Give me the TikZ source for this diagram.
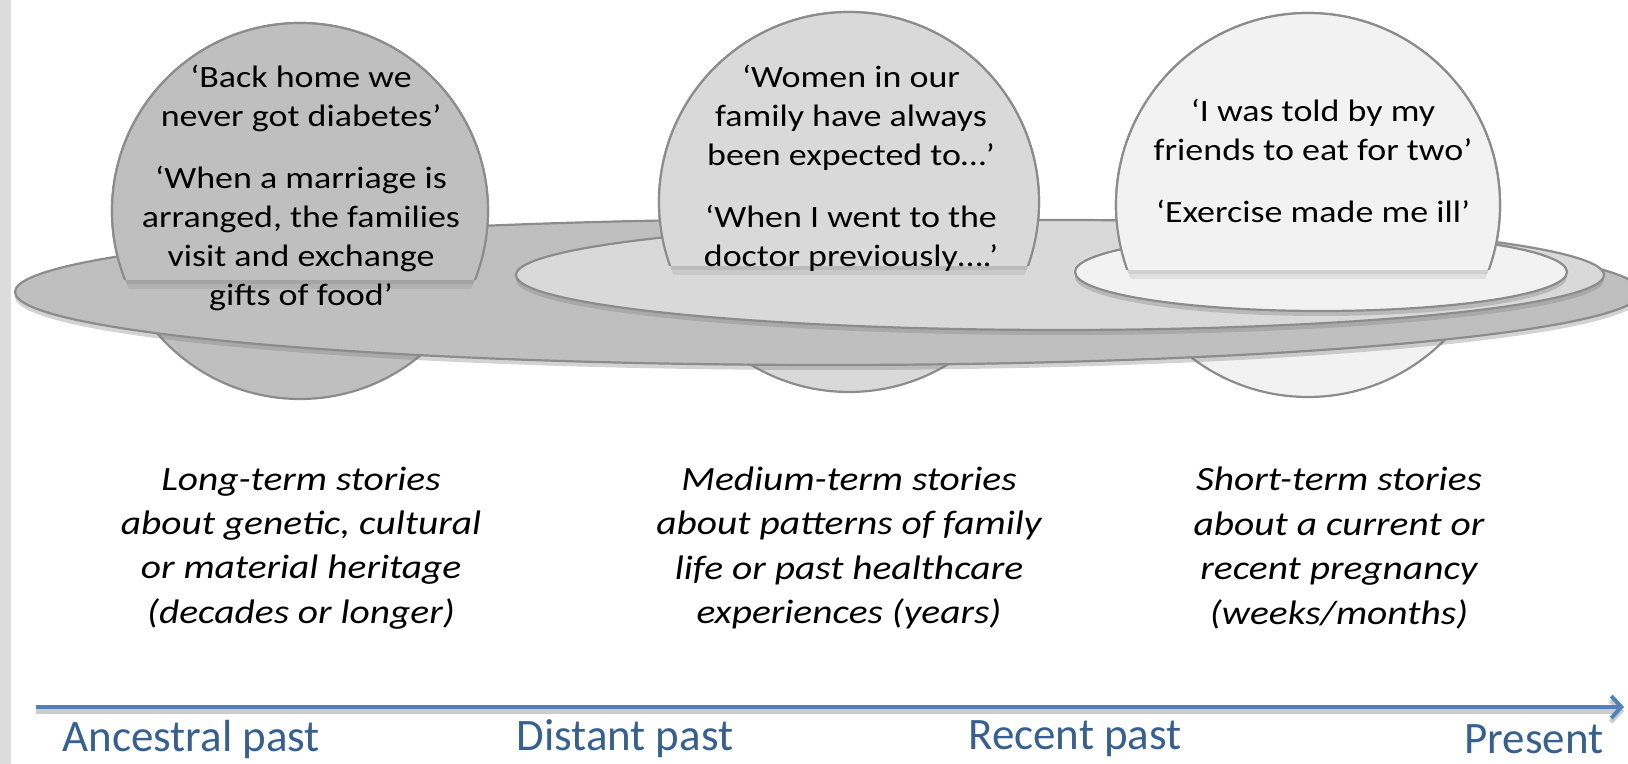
\documentclass[tikz,border=0pt]{standalone}
\usepackage{fontspec}
\setmainfont{Carlito}
\newfontfamily\widefont{Carlito}[FakeStretch=1.16]
\usetikzlibrary{arrows.meta,shadows}

\definecolor{ringdark}{HTML}{BFBFBF}
\definecolor{ringmid}{HTML}{D9D9D9}
\definecolor{ringlight}{HTML}{F2F2F2}
\definecolor{rimline}{HTML}{8C8C8C}
\definecolor{axisblue}{HTML}{4F81BD}
\definecolor{labelblue}{HTML}{366092}
\definecolor{sidebar}{HTML}{DCDCDC}

\tikzset{
  planet/.style={draw=rimline, line width=1.1pt},
  ring/.style={planet, drop shadow={shadow xshift=0pt, shadow yshift=-2.5pt, opacity=0.35}},
  quote/.style={align=center, font=\widefont\fontsize{15.5}{19.5}\selectfont},
  story/.style={align=center, font=\widefont\fontsize{17}{22.2}\selectfont\itshape},
  period/.style={anchor=west, inner sep=0pt, text=labelblue, font=\fontsize{22.5}{27}\selectfont},
  timeline/.style={draw=axisblue, line width=2pt, -{Straight Barb[length=5pt, width=11pt]},
    preaction={draw=black!20, line width=2.5pt, transform canvas={yshift=-2pt}}},
}

\begin{document}
\begin{tikzpicture}[x=0.5pt, y=-0.5pt]
    \def\gap{11.5pt}

    \useasboundingbox (0,0) rectangle (1628,764);
    \fill[sidebar] (0,0) rectangle (11,764);

% planets, seen behind the rings
    \filldraw[planet, fill=ringdark] (300,211) circle [radius=188];
    \filldraw[planet, fill=ringmid] (849,202) circle [radius=190];
    \filldraw[planet, fill=ringlight] (1308,205) circle [radius=192];

% rings
    \filldraw[ring, fill=ringdark] (828,292) ellipse [x radius=813, y radius=73];
    \filldraw[ring, fill=ringmid] (1060,275) ellipse [x radius=544, y radius=55];
    \filldraw[ring, fill=ringlight] (1321,272) ellipse [x radius=246, y radius=39];

% upper parts of the planets, in front of the rings
    \foreach \cx/\cy/\r/\cut/\col in {300/211/188/280/ringdark, 849/202/190/266/ringmid, 1308/205/192/270/ringlight} {
        \begin{scope}
            \clip (\cx,\cy) circle [radius=\r];
            \fill[black, opacity=0.07] (\cx-\r,\cut) rectangle (\cx+\r,\cut+9);
            \fill[black, opacity=0.07] (\cx-\r,\cut) rectangle (\cx+\r,\cut+4);
        \end{scope}
        \begin{scope}
            \clip (0,0) rectangle (1628,\cut);
            \filldraw[planet, fill=\col] (\cx,\cy) circle [radius=\r];
        \end{scope}
    }

% quotes
    \node[quote] (qLong) at (301,188) {‘Back home we\\ never got diabetes’\\[\gap] ‘When a marriage is\\ arranged, the families\\ visit and exchange\\ gifts of food’};
    \node[quote] (qMedium) at (851,168) {‘Women in our\\ family have always\\ been expected to…’\\[\gap] ‘When I went to the\\ doctor previously….’};
    \node[quote] (qShort) at (1313,161) {‘I was told by my\\ friends to eat for two’\\[\gap] ‘Exercise made me ill’};

% kinds of stories
    \node[story] (sLong) at (301,548) {Long-term stories\\ about genetic, cultural\\ or material heritage\\ (decades or longer)};
    \node[story] (sMedium) at (849,548) {Medium-term stories\\ about patterns of family\\ life or past healthcare\\ experiences (years)};
    \node[story] (sShort) at (1339,548) {Short-term stories\\ about a current or\\ recent pregnancy\\ (weeks/months)};

% time line
    \coordinate (axStart) at (36,707);
    \coordinate (axEnd) at (1624,707);
    \draw[timeline] (axStart) -- (axEnd);

    \node[period] (pAncestral) at (62,739) {Ancestral past};
    \node[period] (pDistant) at (516,739) {Distant past};
    \node[period] (pRecent) at (968,739) {Recent past};
    \node[period] (pPresent) at (1464,739) {Present};

\end{tikzpicture}
\end{document}
